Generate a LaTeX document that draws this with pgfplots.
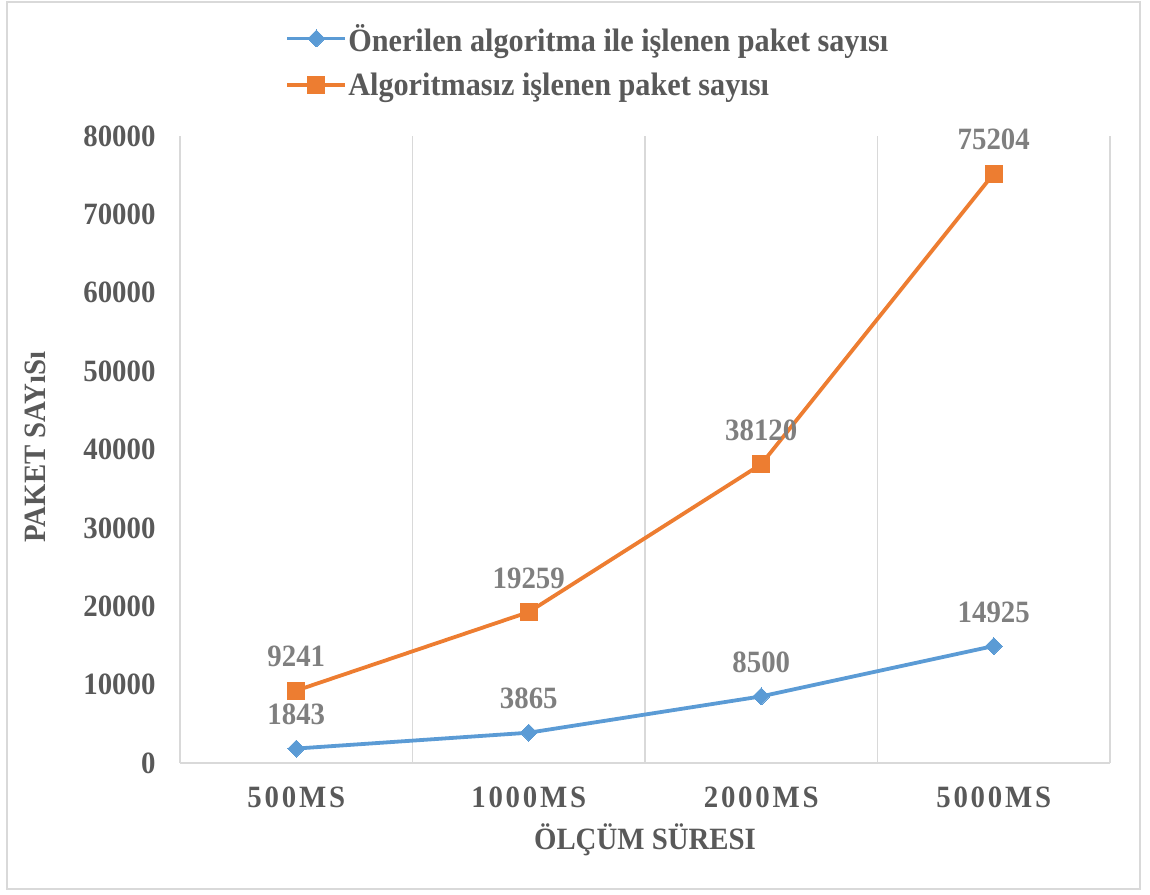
\documentclass[border=0pt]{standalone}
\usepackage{fontspec}
\setmainfont{Liberation Serif}[FakeStretch=0.93]
\usepackage{pgfplots}
\pgfplotsset{compat=1.18}
\definecolor{cblue}{HTML}{5B9BD5}
\definecolor{corange}{HTML}{ED7D31}
\definecolor{txtdark}{HTML}{595959}
\definecolor{txtlight}{HTML}{7F7F7F}
\definecolor{gridc}{HTML}{D9D9D9}
\newcommand\fs{\fontsize{31bp}{36bp}\selectfont\bfseries}
\newcommand\fl{\fontsize{32.5bp}{38bp}\selectfont\bfseries}
\begin{document}
\begin{tikzpicture}[x=1bp,y=1bp]
\useasboundingbox (0,0) rectangle (1150,895);
\draw[gridc, line width=1.5bp] (7,893) rectangle (1140,6);
\begin{axis}[
  at={(180bp,132bp)}, anchor=south west,
  scale only axis, width=930bp, height=627bp,
  xmin=-0.5, xmax=3.5, ymin=0, ymax=80000,
  axis lines*=left, axis line style={draw=gridc, line width=1.5bp, -},
  xtick={0,1,2,3},
  xticklabels={500MS,1000MS,2000MS,5000MS},
  minor xtick={0.5,1.5,2.5,3.5},
  xminorgrids=true, minor grid style={draw=gridc, line width=1.5bp},
  minor tick length=0pt, major tick length=0pt,
  ytick={0,10000,...,80000},
  scaled y ticks=false,
  /pgf/number format/.cd, 1000 sep={}, assume math mode=true, /pgfplots/.cd,
  tick label style={font=\fs, text=txtdark},
  xticklabel style={font=\fs\addfontfeature{LetterSpace=9}, yshift=-20bp},
  yticklabel style={xshift=-21bp},
  xlabel={ÖLÇÜM SÜRESI},
  ylabel={PAKET SAYıSı},
  label style={font=\fs, text=txtdark},
  x label style={at={(axis description cs:0.5,-0.123)}, anchor=center},
  y label style={at={(axis description cs:-0.156,0.504)}, anchor=center, rotate=0},
  point meta=explicit symbolic,
  nodes near coords,
  nodes near coords style={font=\fs, text=txtlight, anchor=base, yshift=24bp},
  legend cell align=left,
  legend style={at={(axis description cs:0.110,1.185)}, anchor=north west,
    draw=none, fill=none, font=\fl, text=txtdark, row sep=16bp,
    /tikz/every even column/.append style={column sep=0bp},
    nodes={inner xsep=1bp}},
  legend image code/.code={\draw[#1, mark repeat=2, mark phase=2] plot coordinates {(0bp,0bp) (29bp,0bp) (58bp,0bp)};},
]
\addplot[color=cblue, line width=3.8bp, mark=square*, mark size=6bp, mark options={rotate=45, fill=cblue, draw=cblue, line width=0pt}]
 coordinates {(0,1843) [1843] (1,3865) [3865] (2,8500) [8500] (3,14925) [14925]};
\addlegendentry{Önerilen algoritma ile işlenen paket sayısı}
\addplot[color=corange, line width=3.8bp, mark=square*, mark size=8.5bp, mark options={fill=corange, draw=corange, line width=0pt}]
 coordinates {(0,9241) [9241] (1,19259) [19259] (2,38120) [38120] (3,75204) [75204]};
\addlegendentry{Algoritmasız işlenen paket sayısı}
\end{axis}
\end{tikzpicture}
\end{document}
